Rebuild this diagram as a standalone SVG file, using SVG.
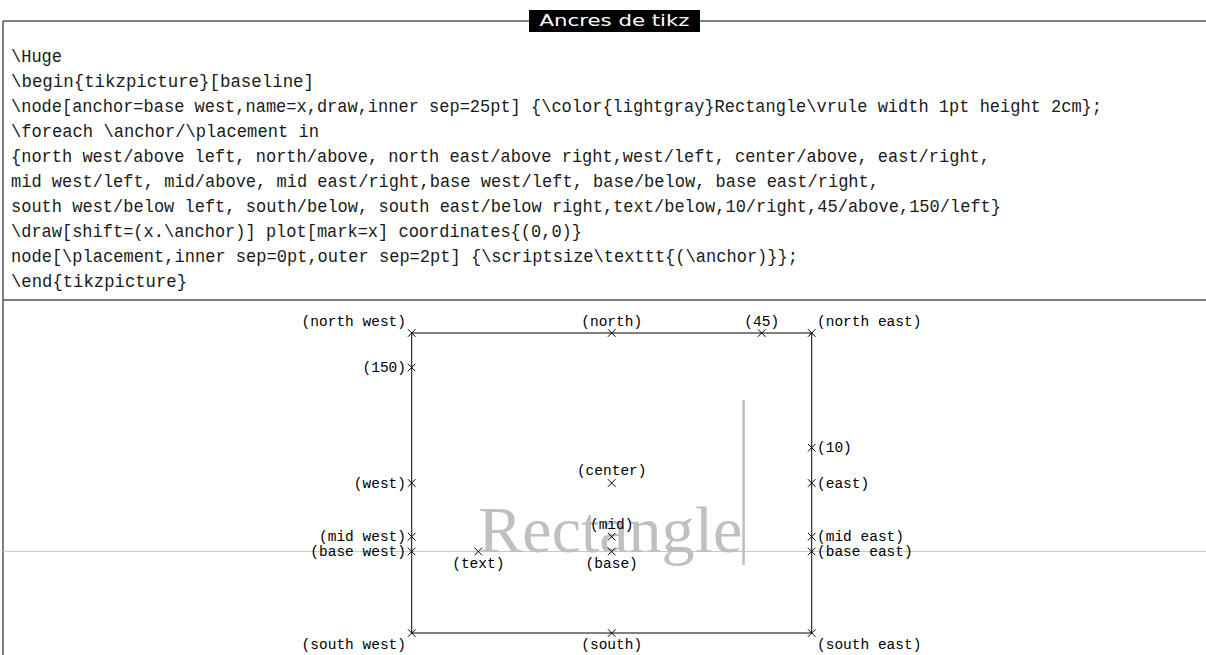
<svg xmlns="http://www.w3.org/2000/svg" width="1206" height="655" viewBox="0 0 1206 655">
<style>
.code{font-family:"Liberation Mono","DejaVu Sans Mono",monospace;font-size:17.5px;fill:#1a1a1a}
.lbl{font-family:"Liberation Mono","DejaVu Sans Mono",monospace;font-size:14.5px;fill:#000}
.mk{stroke:#000;stroke-width:1;fill:none}
.frame{stroke:#555;stroke-width:1.5;fill:none}
</style>
<defs>
<path id="x" d="M-3.8,-3.8L3.8,3.8M-3.8,3.8L3.8,-3.8" class="mk"/>
</defs>
<rect width="1206" height="655" fill="#fff"/>
<g id="frame">
<line x1="3" y1="21" x2="1206" y2="21" class="frame"/>
<line x1="3" y1="21" x2="3" y2="655" class="frame"/>
<line x1="3" y1="300" x2="1206" y2="300" class="frame"/>
<rect x="529" y="10" width="171" height="22" fill="#000"/>
<text x="614.5" y="26" text-anchor="middle" font-family="DejaVu Sans, sans-serif" font-size="15" fill="#fff" textLength="150" lengthAdjust="spacingAndGlyphs">Ancres de tikz</text>
</g>
<g id="code">
<text class="code" x="11" y="62" textLength="51" lengthAdjust="spacingAndGlyphs">\Huge</text>
<text class="code" x="11" y="87" textLength="303" lengthAdjust="spacingAndGlyphs">\begin{tikzpicture}[baseline]</text>
<text class="code" x="11" y="112" textLength="1091" lengthAdjust="spacingAndGlyphs">\node[anchor=base west,name=x,draw,inner sep=25pt] {\color{lightgray}Rectangle\vrule width 1pt height 2cm};</text>
<text class="code" x="11" y="137" textLength="308" lengthAdjust="spacingAndGlyphs">\foreach \anchor/\placement in</text>
<text class="code" x="11" y="162" textLength="979" lengthAdjust="spacingAndGlyphs">{north west/above left, north/above, north east/above right,west/left, center/above, east/right,</text>
<text class="code" x="11" y="187" textLength="868" lengthAdjust="spacingAndGlyphs">mid west/left, mid/above, mid east/right,base west/left, base/below, base east/right,</text>
<text class="code" x="11" y="212" textLength="990" lengthAdjust="spacingAndGlyphs">south west/below left, south/below, south east/below right,text/below,10/right,45/above,150/left}</text>
<text class="code" x="11" y="237" textLength="571" lengthAdjust="spacingAndGlyphs">\draw[shift=(x.\anchor)] plot[mark=x] coordinates{(0,0)}</text>
<text class="code" x="11" y="262" textLength="787" lengthAdjust="spacingAndGlyphs">node[\placement,inner sep=0pt,outer sep=2pt] {\scriptsize\texttt{(\anchor)}};</text>
<text class="code" x="11" y="287" textLength="176" lengthAdjust="spacingAndGlyphs">\end{tikzpicture}</text>
</g>
<g id="baseline-rule">
<line x1="3" y1="551.5" x2="1206" y2="551.5" stroke="#c8c8c8" stroke-width="1.2"/>
</g>
<g id="node-x">
<text x="478.3" y="551.5" font-family="Liberation Serif, serif" font-size="66" fill="#c0c0c0" textLength="264" lengthAdjust="spacingAndGlyphs">Rectangle</text>
<rect x="742.3" y="400" width="2.6" height="165" fill="#c0c0c0"/>
<rect x="411.7" y="333" width="400" height="300" fill="none" stroke="#000" stroke-width="1"/>
</g>
<g id="anchors">
<use href="#x" x="411.7" y="333"/>
<use href="#x" x="611.7" y="333"/>
<use href="#x" x="811.7" y="333"/>
<use href="#x" x="411.7" y="483"/>
<use href="#x" x="611.7" y="483"/>
<use href="#x" x="811.7" y="483"/>
<use href="#x" x="411.7" y="536.7"/>
<use href="#x" x="611.7" y="536.7"/>
<use href="#x" x="811.7" y="536.7"/>
<use href="#x" x="411.7" y="551.5"/>
<use href="#x" x="611.7" y="551.5"/>
<use href="#x" x="811.7" y="551.5"/>
<use href="#x" x="411.7" y="633"/>
<use href="#x" x="611.7" y="633"/>
<use href="#x" x="811.7" y="633"/>
<use href="#x" x="478.3" y="551.5"/>
<use href="#x" x="811.7" y="447.7"/>
<use href="#x" x="761.7" y="333"/>
<use href="#x" x="411.7" y="367.5"/>
</g>
<g id="labels">
<text class="lbl" x="406" y="325.5" text-anchor="end">(north west)</text>
<text class="lbl" x="611.7" y="325.5" text-anchor="middle">(north)</text>
<text class="lbl" x="817" y="325.5">(north east)</text>
<text class="lbl" x="406" y="487.5" text-anchor="end">(west)</text>
<text class="lbl" x="611.7" y="475" text-anchor="middle">(center)</text>
<text class="lbl" x="817" y="487.5">(east)</text>
<text class="lbl" x="406" y="541.2" text-anchor="end">(mid west)</text>
<text class="lbl" x="611.7" y="528.7" text-anchor="middle">(mid)</text>
<text class="lbl" x="817" y="541.2">(mid east)</text>
<text class="lbl" x="406" y="556" text-anchor="end">(base west)</text>
<text class="lbl" x="611.7" y="567.5" text-anchor="middle">(base)</text>
<text class="lbl" x="817" y="556">(base east)</text>
<text class="lbl" x="406" y="649" text-anchor="end">(south west)</text>
<text class="lbl" x="611.7" y="649" text-anchor="middle">(south)</text>
<text class="lbl" x="817" y="649">(south east)</text>
<text class="lbl" x="478.3" y="567.5" text-anchor="middle">(text)</text>
<text class="lbl" x="817" y="452.2">(10)</text>
<text class="lbl" x="761.7" y="325.5" text-anchor="middle">(45)</text>
<text class="lbl" x="406" y="372" text-anchor="end">(150)</text>
</g>
</svg>
